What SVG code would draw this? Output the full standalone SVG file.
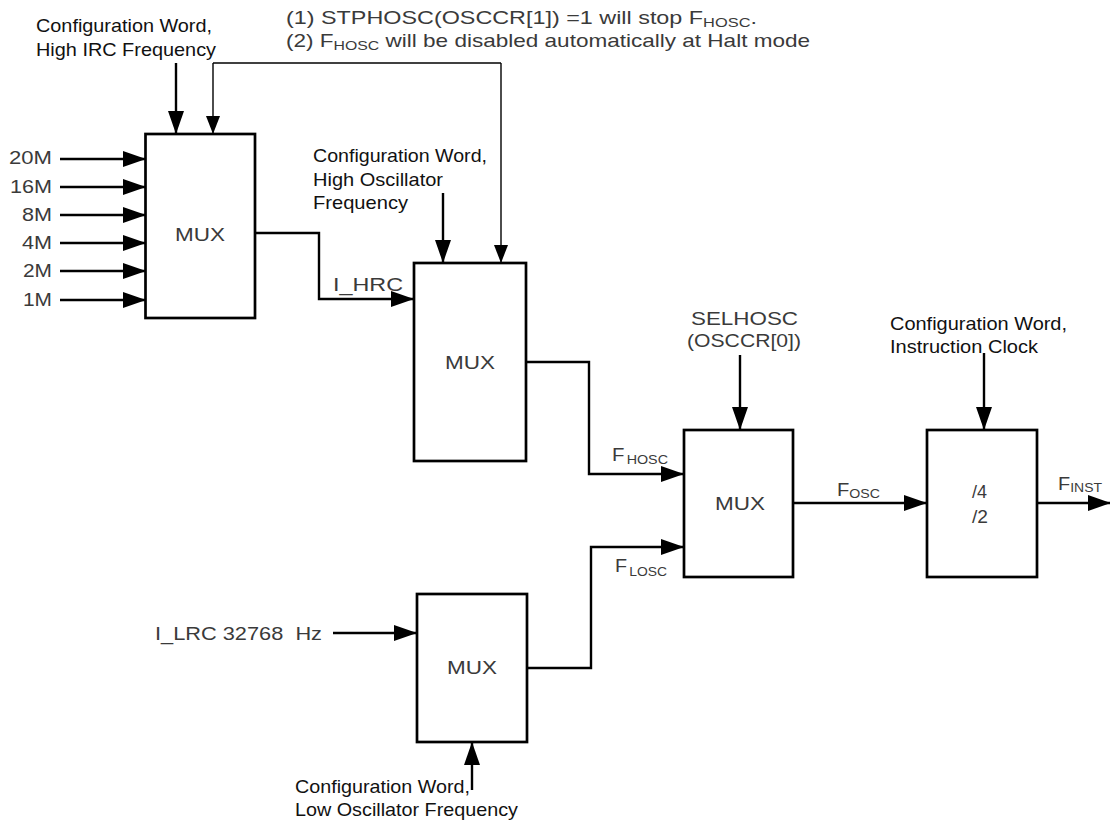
<svg xmlns="http://www.w3.org/2000/svg" width="1110" height="822" viewBox="0 0 1110 822">
<defs>
<marker id="arr" markerUnits="userSpaceOnUse" markerWidth="23" markerHeight="16" viewBox="0 0 23 16" refX="22" refY="8" orient="auto">
<path d="M0,0 L23,8 L0,16 z" fill="#000"/>
</marker>
<marker id="arrs" markerUnits="userSpaceOnUse" markerWidth="18" markerHeight="14" viewBox="0 0 18 14" refX="17" refY="7" orient="auto">
<path d="M0,0 L18,7 L0,14 z" fill="#000"/>
</marker>
</defs>
<style>
text{font-family:"Liberation Sans",Arial,sans-serif;font-size:18.5px}
.blk{fill:#111}
.gry{fill:#3a3a3a}
.box{fill:#fff;stroke:#000;stroke-width:2.7}
.ln{fill:none;stroke:#000;stroke-width:2.4}
.thin{fill:none;stroke:#000;stroke-width:1.4}
.sub{font-size:13px}
</style>
<rect width="1110" height="822" fill="#fff"/>

<g id="connectors">
<path class="ln" d="M60,159 L145,159" marker-end="url(#arr)"/>
<path class="ln" d="M60,187 L145,187" marker-end="url(#arr)"/>
<path class="ln" d="M60,215 L145,215" marker-end="url(#arr)"/>
<path class="ln" d="M60,243 L145,243" marker-end="url(#arr)"/>
<path class="ln" d="M60,271 L145,271" marker-end="url(#arr)"/>
<path class="ln" d="M60,300 L145,300" marker-end="url(#arr)"/>
<path class="ln" d="M176,63 L176,133" marker-end="url(#arr)"/>
<path class="thin" d="M213,63 L501,63"/>
<path class="thin" d="M213,63 L213,133" marker-end="url(#arrs)"/>
<path class="thin" d="M501,63 L501,262" marker-end="url(#arrs)"/>
<path class="ln" d="M255,233 L319,233 L319,299 L413,299" marker-end="url(#arr)"/>
<path class="ln" d="M443,193 L443,262" marker-end="url(#arr)"/>
<path class="ln" d="M526,362 L589,362 L589,474 L683,474" marker-end="url(#arr)"/>
<path class="ln" d="M333,633 L416,633" marker-end="url(#arr)"/>
<path class="ln" d="M527,668 L591,668 L591,547 L683,547" marker-end="url(#arr)"/>
<path class="ln" d="M472,790 L472,743" marker-end="url(#arr)"/>
<path class="ln" d="M740,355 L740,429" marker-end="url(#arr)"/>
<path class="ln" d="M793,503 L926,503" marker-end="url(#arr)"/>
<path class="ln" d="M984,353 L984,429" marker-end="url(#arr)"/>
<path class="ln" d="M1037,503 L1110,503" marker-end="url(#arr)"/>
</g>

<g id="mux1">
<rect class="box" x="145.5" y="134" width="109.5" height="184"/>
<text class="gry" x="175" y="241" textLength="50" lengthAdjust="spacingAndGlyphs">MUX</text>
</g>
<g id="mux2">
<rect class="box" x="414" y="263" width="112" height="198"/>
<text class="gry" x="445" y="369" textLength="50" lengthAdjust="spacingAndGlyphs">MUX</text>
</g>
<g id="mux3">
<rect class="box" x="684" y="430" width="109" height="147"/>
<text class="gry" x="715" y="510" textLength="50" lengthAdjust="spacingAndGlyphs">MUX</text>
</g>
<g id="divider">
<rect class="box" x="927" y="430" width="110" height="147"/>
<text class="gry" x="972" y="498" textLength="15" lengthAdjust="spacingAndGlyphs">/4</text>
<text class="gry" x="972" y="523" textLength="16" lengthAdjust="spacingAndGlyphs">/2</text>
</g>
<g id="mux4">
<rect class="box" x="417" y="594" width="110" height="148"/>
<text class="gry" x="447" y="674" textLength="50" lengthAdjust="spacingAndGlyphs">MUX</text>
</g>

<g id="labels">
<text class="blk" x="36" y="32" textLength="176" lengthAdjust="spacingAndGlyphs">Configuration Word,</text>
<text class="blk" x="36" y="56" textLength="180" lengthAdjust="spacingAndGlyphs">High IRC Frequency</text>

<text class="gry" x="286" y="24" textLength="471" lengthAdjust="spacingAndGlyphs">(1) STPHOSC(OSCCR[1]) =1 will stop F<tspan class="sub" dy="3">HOSC</tspan><tspan dy="-3">.</tspan></text>
<text class="gry" x="286" y="47" textLength="524" lengthAdjust="spacingAndGlyphs">(2) F<tspan class="sub" dy="3">HOSC</tspan><tspan dy="-3"> will be disabled automatically at Halt mode</tspan></text>

<text class="gry" x="52" y="164" text-anchor="end" textLength="43" lengthAdjust="spacingAndGlyphs">20M</text>
<text class="gry" x="52" y="193" text-anchor="end" textLength="42" lengthAdjust="spacingAndGlyphs">16M</text>
<text class="gry" x="52" y="221" text-anchor="end" textLength="30" lengthAdjust="spacingAndGlyphs">8M</text>
<text class="gry" x="52" y="249" text-anchor="end" textLength="30" lengthAdjust="spacingAndGlyphs">4M</text>
<text class="gry" x="52" y="277" text-anchor="end" textLength="29" lengthAdjust="spacingAndGlyphs">2M</text>
<text class="gry" x="52" y="306" text-anchor="end" textLength="29" lengthAdjust="spacingAndGlyphs">1M</text>

<text class="blk" x="313" y="162" textLength="174" lengthAdjust="spacingAndGlyphs">Configuration Word,</text>
<text class="blk" x="313" y="186" textLength="130" lengthAdjust="spacingAndGlyphs">High Oscillator</text>
<text class="blk" x="313" y="209" textLength="95" lengthAdjust="spacingAndGlyphs">Frequency</text>

<text class="gry" x="333" y="291" textLength="70" lengthAdjust="spacingAndGlyphs">I_HRC</text>

<text class="gry" x="691" y="325" textLength="107" lengthAdjust="spacingAndGlyphs">SELHOSC</text>
<text class="gry" x="687" y="347" textLength="114" lengthAdjust="spacingAndGlyphs">(OSCCR[0])</text>

<text class="blk" x="890" y="330" textLength="177" lengthAdjust="spacingAndGlyphs">Configuration Word,</text>
<text class="blk" x="890" y="353" textLength="148" lengthAdjust="spacingAndGlyphs">Instruction Clock</text>

<text class="gry" x="612" y="461" textLength="56" lengthAdjust="spacingAndGlyphs">F<tspan class="sub" dx="2" dy="3">HOSC</tspan></text>
<text class="gry" x="615" y="572" textLength="52" lengthAdjust="spacingAndGlyphs">F<tspan class="sub" dx="2" dy="4">LOSC</tspan></text>
<text class="gry" x="837" y="496" textLength="43" lengthAdjust="spacingAndGlyphs">F<tspan class="sub" dy="2">OSC</tspan></text>
<text class="gry" x="1058" y="490" textLength="44" lengthAdjust="spacingAndGlyphs">F<tspan class="sub" dy="2">INST</tspan></text>

<text class="gry" x="155" y="640" textLength="167" lengthAdjust="spacingAndGlyphs" xml:space="preserve">I_LRC 32768  Hz</text>

<text class="blk" x="295" y="793" textLength="175" lengthAdjust="spacingAndGlyphs">Configuration Word,</text>
<text class="blk" x="295" y="816" textLength="223" lengthAdjust="spacingAndGlyphs">Low Oscillator Frequency</text>
</g>
</svg>
